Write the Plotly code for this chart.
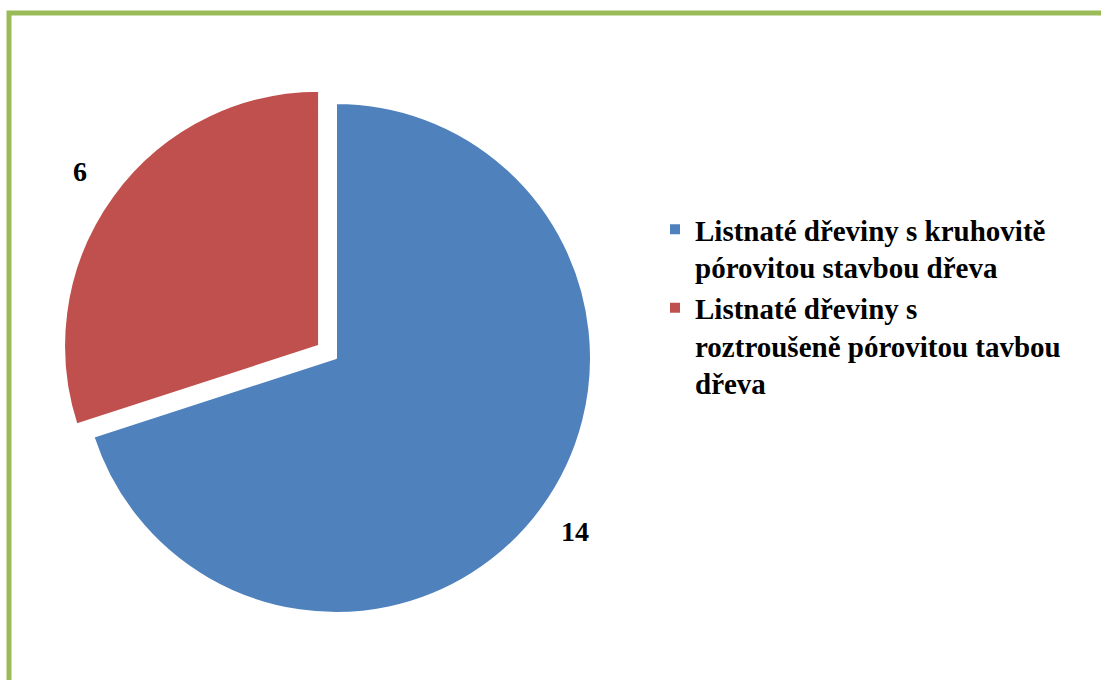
import math
import plotly.graph_objects as go

# Slice data
categories = [
    "Listnaté dřeviny s kruhovitě<br>pórovitou stavbou dřeva",
    "Listnaté dřeviny s<br>roztroušeně pórovitou tavbou<br>dřeva",
]
values = [14, 6]
colors = ["#4F81BD", "#C0504D"]
pulls = [0, 0.082]

W, H = 1101, 680
CX, CY, R = 336, 358, 255          # pie centre and radius, px
BOX = R * (1 + max(pulls))          # half-size of pie domain

fig = go.Figure(
    go.Pie(
        labels=categories,
        values=values,
        marker=dict(colors=colors, line=dict(color="white", width=2)),
        pull=pulls,
        sort=False,
        direction="clockwise",
        rotation=0,
        textinfo="none",
        hoverinfo="label+value",
        domain=dict(
            x=[(CX - BOX) / W, (CX + BOX) / W],
            y=[1 - (CY + BOX) / H, 1 - (CY - BOX) / H],
        ),
    )
)

# Value labels placed outside each slice along its mid-angle
total = sum(values)
start = 0.0
label_factor = 1.16
for v, p in zip(values, pulls):
    frac = v / total
    mid = (start + frac / 2) * 2 * math.pi   # clockwise from 12 o'clock
    dx, dy = math.sin(mid), -math.cos(mid)
    scx, scy = CX + dx * p * R, CY + dy * p * R
    lx, ly = scx + dx * label_factor * R, scy + dy * label_factor * R
    fig.add_annotation(
        x=lx / W, y=1 - ly / H, xref="paper", yref="paper",
        xanchor="center", yanchor="middle",
        text=f"<b>{v}</b>", showarrow=False,
        font=dict(family="Liberation Serif", size=28, color="black"),
    )
    start += frac

# Chart frame
fig.add_shape(
    type="rect", xref="paper", yref="paper",
    x0=9 / W, y0=-0.05, x1=1.05, y1=1 - 13 / H,
    line=dict(color="#9BBB59", width=5), fillcolor="rgba(0,0,0,0)",
)

fig.update_layout(
    width=W, height=H,
    margin=dict(l=0, r=0, t=0, b=0),
    paper_bgcolor="white",
    plot_bgcolor="white",
    showlegend=True,
    legend=dict(
        x=655 / W, y=1 - 204 / H, xanchor="left", yanchor="top",
        valign="top",
        font=dict(family="Liberation Serif", size=29, color="black", weight="bold"),
        bgcolor="rgba(0,0,0,0)",
    ),
)

fig.write_html("out.html")
